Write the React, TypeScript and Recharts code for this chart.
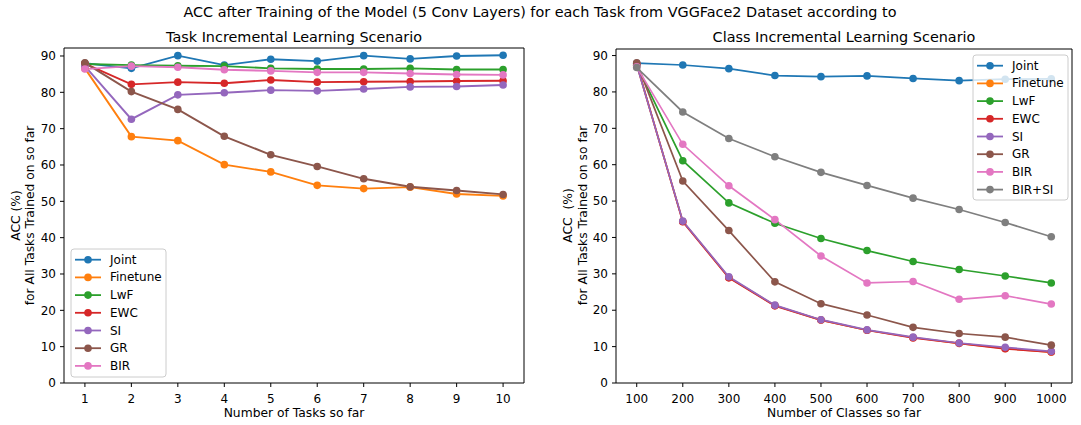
import React from 'react';
import { LineChart, Line, XAxis, YAxis, ReferenceLine } from 'recharts';

// x values
const TASKS = [1, 2, 3, 4, 5, 6, 7, 8, 9, 10];
const CLASSES = [100, 200, 300, 400, 500, 600, 700, 800, 900, 1000];
const Y_TICKS = [0, 10, 20, 30, 40, 50, 60, 70, 80, 90];

// Task incremental scenario
const TASK_JOINT = [88.0, 86.6, 90.1, 87.5, 89.1, 88.6, 90.1, 89.2, 90.0, 90.2];
const TASK_FINETUNE = [86.6, 67.8, 66.7, 60.1, 58.1, 54.4, 53.5, 53.9, 52.0, 51.5];
const TASK_LWF = [87.8, 87.5, 87.3, 87.2, 86.6, 86.4, 86.4, 86.6, 86.3, 86.3];
const TASK_EWC = [87.9, 82.2, 82.8, 82.5, 83.4, 82.8, 82.9, 83.0, 83.1, 83.2];
const TASK_SI = [87.2, 72.6, 79.3, 79.9, 80.6, 80.4, 80.9, 81.5, 81.6, 82.0];
const TASK_GR = [88.1, 80.2, 75.3, 67.9, 62.8, 59.6, 56.2, 54.0, 53.0, 51.9];
const TASK_BIR = [86.4, 87.2, 86.9, 86.2, 85.9, 85.5, 85.5, 85.2, 84.9, 84.8];

// Class incremental scenario
const CLASS_JOINT = [87.9, 87.4, 86.4, 84.5, 84.2, 84.4, 83.7, 83.1, 83.5, 83.6];
const CLASS_FINETUNE = [87.5, 44.4, 29.0, 21.3, 17.3, 14.5, 12.5, 10.9, 9.5, 8.5];
const CLASS_LWF = [87.3, 61.1, 49.5, 43.9, 39.7, 36.4, 33.4, 31.2, 29.4, 27.5];
const CLASS_EWC = [87.7, 44.3, 28.9, 21.2, 17.3, 14.5, 12.4, 10.9, 9.4, 8.5];
const CLASS_SI = [87.4, 44.5, 29.2, 21.4, 17.4, 14.6, 12.6, 11.0, 9.8, 8.7];
const CLASS_GR = [88.0, 55.5, 41.9, 27.8, 21.8, 18.7, 15.3, 13.6, 12.6, 10.4];
const CLASS_BIR = [86.9, 65.6, 54.2, 44.9, 34.9, 27.5, 27.9, 23.0, 24.0, 21.7];
const CLASS_BIRSI = [86.7, 74.5, 67.2, 62.2, 57.9, 54.3, 50.8, 47.7, 44.1, 40.2];

const TASK_SERIES = [
  { name: 'Joint', values: TASK_JOINT, color: '#1f77b4' },
  { name: 'Finetune', values: TASK_FINETUNE, color: '#ff7f0e' },
  { name: 'LwF', values: TASK_LWF, color: '#2ca02c' },
  { name: 'EWC', values: TASK_EWC, color: '#d62728' },
  { name: 'SI', values: TASK_SI, color: '#9467bd' },
  { name: 'GR', values: TASK_GR, color: '#8c564b' },
  { name: 'BIR', values: TASK_BIR, color: '#e377c2' },
];

const CLASS_SERIES = [
  { name: 'Joint', values: CLASS_JOINT, color: '#1f77b4' },
  { name: 'Finetune', values: CLASS_FINETUNE, color: '#ff7f0e' },
  { name: 'LwF', values: CLASS_LWF, color: '#2ca02c' },
  { name: 'EWC', values: CLASS_EWC, color: '#d62728' },
  { name: 'SI', values: CLASS_SI, color: '#9467bd' },
  { name: 'GR', values: CLASS_GR, color: '#8c564b' },
  { name: 'BIR', values: CLASS_BIR, color: '#e377c2' },
  { name: 'BIR+SI', values: CLASS_BIRSI, color: '#7f7f7f' },
];

const FONT = '"DejaVu Sans", sans-serif';

type Series = { name: string; values: number[]; color: string };

const buildRows = (xs: number[], series: Series[]) =>
  xs.map((x, i) => {
    const row: Record<string, number> = { x };
    series.forEach((s) => {
      row[s.name] = s.values[i];
    });
    return row;
  });

const tickStyle = { fontSize: 12, fill: '#000', fontFamily: FONT };

interface PanelProps {
  xs: number[];
  series: Series[];
  xDomain: [number, number];
  yMax: number;
  width: number;
  margin: { top: number; right: number; bottom: number; left: number };
  lineWidth: number;
}

const Panel: React.FC<PanelProps> = ({ xs, series, xDomain, yMax, width, margin, lineWidth }) => {
  const data = buildRows(xs, series);
  return (
    <LineChart width={width} height={425} data={data} margin={margin}>
      <XAxis
        dataKey="x"
        type="number"
        domain={xDomain}
        ticks={xs}
        interval={0}
        allowDataOverflow
        tick={tickStyle}
        tickSize={4}
        tickMargin={7}
        height={30}
        axisLine={{ stroke: '#000', strokeWidth: 1 }}
        tickLine={{ stroke: '#000' }}
      />
      <YAxis
        type="number"
        domain={[0, yMax]}
        ticks={Y_TICKS}
        interval={0}
        allowDataOverflow
        tick={tickStyle}
        tickSize={4}
        tickMargin={4}
        width={40}
        axisLine={{ stroke: '#000', strokeWidth: 1 }}
        tickLine={{ stroke: '#000' }}
      />
      {/* top and right spines of the frame */}
      <ReferenceLine y={yMax} stroke="#000" strokeWidth={1} ifOverflow="visible" />
      <ReferenceLine x={xDomain[1]} stroke="#000" strokeWidth={1} ifOverflow="visible" />
      {series.map((s) => (
        <Line
          key={s.name}
          dataKey={s.name}
          stroke={s.color}
          strokeWidth={lineWidth}
          dot={{ r: 3.8, fill: s.color, stroke: s.color, strokeWidth: 0 }}
          activeDot={false}
          isAnimationActive={false}
          type="linear"
        />
      ))}
    </LineChart>
  );
};

const LegendBox: React.FC<{ series: Series[]; x: number; y: number; w: number; h: number }> = ({ series, x, y, w, h }) => (
  <g>
    <rect x={x} y={y} width={w} height={h} rx={3} fill="#fff" fillOpacity={0.8} stroke="#cccccc" strokeWidth={1} />
    {series.map((s, i) => {
      const cy = y + 10.7 + i * 17.7;
      return (
        <g key={s.name}>
          <line x1={x + 4} x2={x + 30} y1={cy} y2={cy} stroke={s.color} strokeWidth={1.8} />
          <circle cx={x + 17} cy={cy} r={3.8} fill={s.color} />
          <text x={x + 39} y={cy} dominantBaseline="central" fontSize={12} fontFamily={FONT} fill="#000">
            {s.name}
          </text>
        </g>
      );
    })}
  </g>
);

const App: React.FC = () => {
  return (
    <div style={{ position: 'absolute', left: 0, top: 0, width: 1081, height: 425, background: '#fff' }}>
      <div style={{ position: 'absolute', left: 0, top: 0 }}>
        <Panel
          xs={TASKS}
          series={TASK_SERIES}
          xDomain={[0.55, 10.45]}
          yMax={92.2}
          width={540}
          margin={{ top: 48, right: 16, bottom: 12, left: 24 }}
          lineWidth={1.9}
        />
      </div>
      <div style={{ position: 'absolute', left: 540, top: 0 }}>
        <Panel
          xs={CLASSES}
          series={CLASS_SERIES}
          xDomain={[55, 1045]}
          yMax={91.8}
          width={541}
          margin={{ top: 49, right: 9, bottom: 12, left: 36 }}
          lineWidth={1.7}
        />
      </div>
      <svg
        width={1081}
        height={425}
        style={{ position: 'absolute', left: 0, top: 0, pointerEvents: 'none' }}
      >
        <text x={540} y={16.7} textAnchor="middle" fontSize={14.4} fontFamily={FONT} fill="#000">
          ACC after Training of the Model (5 Conv Layers) for each Task from VGGFace2 Dataset according to
        </text>
        <text x={294} y={41.5} textAnchor="middle" fontSize={14.4} fontFamily={FONT} fill="#000">
          Task Incremental Learning Scenario
        </text>
        <text x={844} y={41.5} textAnchor="middle" fontSize={14.4} fontFamily={FONT} fill="#000">
          Class Incremental Learning Scenario
        </text>
        <text x={294} y={417} textAnchor="middle" fontSize={12.3} fontFamily={FONT} fill="#000">
          Number of Tasks so far
        </text>
        <text x={844} y={417} textAnchor="middle" fontSize={12.3} fontFamily={FONT} fill="#000">
          Number of Classes so far
        </text>
        <text transform="translate(15.7,215.5) rotate(-90)" textAnchor="middle" dominantBaseline="central" fontSize={12.3} fontFamily={FONT} fill="#000">
          ACC (%)
        </text>
        <text transform="translate(30,215.5) rotate(-90)" textAnchor="middle" dominantBaseline="central" fontSize={12.3} fontFamily={FONT} fill="#000">
          for All Tasks Trained on so far
        </text>
        <text transform="translate(568.3,215.5) rotate(-90)" textAnchor="middle" dominantBaseline="central" fontSize={12.3} fontFamily={FONT} fill="#000" style={{ whiteSpace: 'pre' }}>
          {'ACC  (%)'}
        </text>
        <text transform="translate(582.7,215.5) rotate(-90)" textAnchor="middle" dominantBaseline="central" fontSize={12.3} fontFamily={FONT} fill="#000">
          for All Tasks Trained on so far
        </text>
        <LegendBox series={TASK_SERIES} x={71} y={249} w={95} h={128} />
        <LegendBox series={CLASS_SERIES} x={973} y={55} w={95} h={145} />
      </svg>
    </div>
  );
};

export default App;
